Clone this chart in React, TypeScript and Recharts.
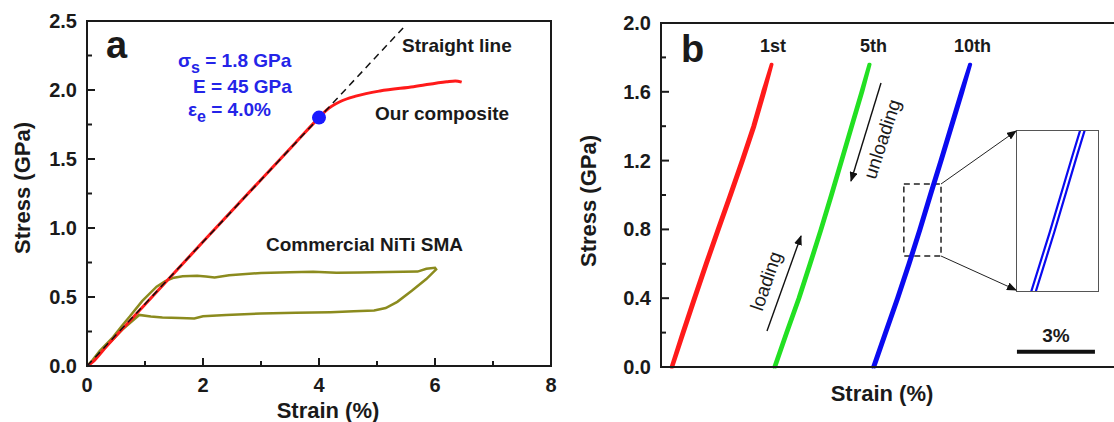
import React from 'react';
import { LineChart, Line, XAxis, YAxis, ReferenceArea, ReferenceDot, ReferenceLine } from 'recharts';

const FONT = '"Liberation Sans", Arial, Helvetica, sans-serif';
const INK = '#1a1a1a';
const BLUE_TEXT = '#2424e8';

// ---- panel a: monotonic tensile curves ----
const straightLine = [{ x: 0, y: 0 }, { x: 5.45, y: 2.45 }];

const composite = [
  { x: 0, y: 0 }, { x: 0.1, y: 0.03 }, { x: 0.3, y: 0.125 }, { x: 1.0, y: 0.445 },
  { x: 2.0, y: 0.9 }, { x: 3.0, y: 1.35 }, { x: 3.6, y: 1.62 }, { x: 4.0, y: 1.8 },
  { x: 4.13, y: 1.855 }, { x: 4.36, y: 1.915 }, { x: 4.65, y: 1.957 }, { x: 5.05, y: 1.993 },
  { x: 5.63, y: 2.024 }, { x: 6.2, y: 2.06 }, { x: 6.35, y: 2.066 }, { x: 6.46, y: 2.057 },
];

const niti = [
  // loading
  { x: 0, y: 0 }, { x: 0.1, y: 0.045 }, { x: 0.22, y: 0.11 }, { x: 0.45, y: 0.21 },
  { x: 0.6, y: 0.29 }, { x: 0.74, y: 0.36 }, { x: 0.95, y: 0.47 }, { x: 1.2, y: 0.575 },
  { x: 1.35, y: 0.615 }, { x: 1.5, y: 0.64 }, { x: 1.65, y: 0.65 }, { x: 1.9, y: 0.654 },
  { x: 2.05, y: 0.648 }, { x: 2.2, y: 0.642 }, { x: 2.45, y: 0.658 }, { x: 3.0, y: 0.674 },
  { x: 3.5, y: 0.68 }, { x: 3.9, y: 0.683 }, { x: 4.3, y: 0.676 }, { x: 4.7, y: 0.678 },
  { x: 5.2, y: 0.682 }, { x: 5.7, y: 0.684 }, { x: 5.85, y: 0.705 }, { x: 6.0, y: 0.712 },
  // unloading
  { x: 6.02, y: 0.7 }, { x: 5.85, y: 0.63 }, { x: 5.6, y: 0.545 }, { x: 5.35, y: 0.465 },
  { x: 5.15, y: 0.42 }, { x: 4.95, y: 0.403 }, { x: 4.6, y: 0.396 }, { x: 4.2, y: 0.39 },
  { x: 3.6, y: 0.385 }, { x: 3.0, y: 0.38 }, { x: 2.4, y: 0.37 }, { x: 2.0, y: 0.36 },
  { x: 1.85, y: 0.345 }, { x: 1.6, y: 0.347 }, { x: 1.3, y: 0.352 }, { x: 1.1, y: 0.358 },
  { x: 0.9, y: 0.37 }, { x: 0.6, y: 0.26 }, { x: 0.3, y: 0.13 }, { x: 0.08, y: 0.03 }, { x: 0, y: 0 },
];

const yieldPoint = { x: 4.0, y: 1.8 };

const aXTicks = [0, 1, 2, 3, 4, 5, 6, 7, 8];
const aXMajor = [0, 2, 4, 6, 8];
const aYTicks = [0, 0.25, 0.5, 0.75, 1.0, 1.25, 1.5, 1.75, 2.0, 2.25, 2.5];
const aYMajor = [0, 0.5, 1.0, 1.5, 2.0, 2.5];

// ---- panel b: cyclic loading (strain in %, shifted per cycle) ----
const stressLevels = [0, 0.2, 0.4, 0.6, 0.8, 1.0, 1.2, 1.4, 1.6, 1.76];
const cycle1Load = [0.39, 0.81, 1.25, 1.7, 2.16, 2.63, 3.09, 3.53, 3.91, 4.24];
const cycle1Unload = [0.45, 0.89, 1.33, 1.78, 2.24, 2.71, 3.17, 3.61, 3.99, 4.27];
const cycle5Load = [4.34, 4.8, 5.27, 5.7, 6.12, 6.52, 6.91, 7.3, 7.69, 8.0];
const cycle5Unload = [4.41, 4.87, 5.34, 5.77, 6.19, 6.59, 6.98, 7.37, 7.76, 8.04];
const cycle10Load = [8.14, 8.6, 9.06, 9.5, 9.92, 10.32, 10.73, 11.13, 11.53, 11.87];
const cycle10Unload = [8.22, 8.68, 9.14, 9.58, 10.0, 10.4, 10.81, 11.21, 11.61, 11.91];

const bYTicks = [0, 0.2, 0.4, 0.6, 0.8, 1.0, 1.2, 1.4, 1.6, 1.8, 2.0];
const bYMajor = [0, 0.4, 0.8, 1.2, 1.6, 2.0];

const zoomBox = { x1: 9.34, x2: 10.77, y1: 0.645, y2: 1.064 };
const scaleBar = { start: 13.69, length: 3, stress: 0.089 };

const loop = (load: number[], unload: number[]) => [
  ...stressLevels.map((s, i) => ({ x: load[i], y: s })),
  ...stressLevels.map((s, i) => ({ x: unload[i], y: s })).reverse(),
];

const cycle1 = loop(cycle1Load, cycle1Unload);
const cycle5 = loop(cycle5Load, cycle5Unload);
const cycle10 = loop(cycle10Load, cycle10Unload);

const isMajor = (majors: number[], v: number) => majors.some(m => Math.abs(m - v) < 1e-6);

// inward ticks, long for labelled values and short for the minor ones
const bottomTick = (majors: number[]) => (p: any) => {
  const { x, y, payload } = p;
  const major = isMajor(majors, payload.value);
  return (
    <g>
      <line x1={x} y1={y} x2={x} y2={y - (major ? 8 : 5)} stroke={INK} strokeWidth={2} />
      {major && (
        <text x={x} y={y + 26} textAnchor="middle" fontFamily={FONT} fontSize={20} fontWeight="bold" fill={INK}>
          {String(payload.value)}
        </text>
      )}
    </g>
  );
};

const leftTick = (majors: number[]) => (p: any) => {
  const { x, y, payload } = p;
  const major = isMajor(majors, payload.value);
  return (
    <g>
      <line x1={x} y1={y} x2={x + (major ? 8 : 5)} y2={y} stroke={INK} strokeWidth={2} />
      {major && (
        <text x={x - 10} y={y + 7} textAnchor="end" fontFamily={FONT} fontSize={20} fontWeight="bold" fill={INK}>
          {payload.value.toFixed(1)}
        </text>
      )}
    </g>
  );
};

const axisLine = { stroke: INK, strokeWidth: 2 };

function PanelA() {
  return (
    <LineChart width={560} height={422} margin={{ top: 21, right: 9, bottom: 16, left: 27 }}>
      <XAxis type="number" dataKey="x" domain={[0, 8]} ticks={aXTicks} interval={0} height={40}
        tickSize={0} tickMargin={0} tickLine={false} axisLine={axisLine} tick={bottomTick(aXMajor)} />
      <YAxis type="number" dataKey="y" domain={[0, 2.5]} ticks={aYTicks} interval={0} width={60}
        tickSize={0} tickMargin={0} tickLine={false} axisLine={axisLine} tick={leftTick(aYMajor)} />
      <ReferenceArea x1={0} x2={8} y1={0} y2={2.5} fill="none" stroke={INK} strokeWidth={2} fillOpacity={0} />
      <Line data={niti} dataKey="y" type="linear" stroke="#8b8b1e" strokeWidth={2.5} dot={false} isAnimationActive={false} />
      <Line data={composite} dataKey="y" type="monotone" stroke="#ff1a1a" strokeWidth={3} dot={false} isAnimationActive={false} />
      <Line data={straightLine} dataKey="y" type="linear" stroke="#111" strokeWidth={1.5} strokeDasharray="7 5" dot={false} isAnimationActive={false} />
      <ReferenceDot x={yieldPoint.x} y={yieldPoint.y} r={7} fill="#1a1aff" stroke="none" />
    </LineChart>
  );
}

function PanelB() {
  return (
    <LineChart width={560} height={422} margin={{ top: 23, right: 4, bottom: 15, left: 31 }}>
      <XAxis type="number" dataKey="x" domain={[0, 17.5]} height={40} tick={false} tickLine={false} axisLine={axisLine} />
      <YAxis type="number" dataKey="y" domain={[0, 2.0]} ticks={bYTicks} interval={0} width={70}
        tickSize={0} tickMargin={0} tickLine={false} axisLine={axisLine} tick={leftTick(bYMajor)} />
      <ReferenceArea x1={0} x2={17.5} y1={0} y2={2.0} fill="none" stroke={INK} strokeWidth={2} fillOpacity={0} />
      <Line data={cycle1} dataKey="y" type="linear" stroke="#ff1a1a" strokeWidth={3} strokeLinecap="round" strokeLinejoin="round" dot={false} isAnimationActive={false} />
      <Line data={cycle5} dataKey="y" type="linear" stroke="#22e022" strokeWidth={3} strokeLinecap="round" strokeLinejoin="round" dot={false} isAnimationActive={false} />
      <Line data={cycle10} dataKey="y" type="linear" stroke="#0a0af0" strokeWidth={3} strokeLinecap="round" strokeLinejoin="round" dot={false} isAnimationActive={false} />
      <ReferenceArea x1={zoomBox.x1} x2={zoomBox.x2} y1={zoomBox.y1} y2={zoomBox.y2} fill="none" fillOpacity={0}
        stroke="#222" strokeWidth={1.5} strokeDasharray="6 4" />
      <ReferenceLine segment={[{ x: scaleBar.start, y: scaleBar.stress }, { x: scaleBar.start + scaleBar.length, y: scaleBar.stress }]}
        stroke="#111" strokeWidth={4} />
    </LineChart>
  );
}

function Inset() {
  return (
    <div style={{ position: 'absolute', left: 1017, top: 130.5, width: 81, height: 160, outline: '1.5px solid #555', background: '#fff' }}>
      <LineChart width={81} height={160} margin={{ top: 0, right: 0, bottom: 0, left: 0 }}>
        <XAxis type="number" dataKey="x" domain={[zoomBox.x1, zoomBox.x2]} allowDataOverflow hide />
        <YAxis type="number" dataKey="y" domain={[zoomBox.y1, zoomBox.y2]} allowDataOverflow hide />
        <Line data={cycle10} dataKey="y" type="linear" stroke="#0a0af0" strokeWidth={2.2} dot={false} isAnimationActive={false} />
      </LineChart>
    </div>
  );
}

function Overlay() {
  const t = { fontFamily: FONT, fill: INK };
  return (
    <svg width={1114} height={422} style={{ position: 'absolute', left: 0, top: 0, pointerEvents: 'none' }}>
      <defs>
        <marker id="ah" markerWidth="10" markerHeight="8" refX="9" refY="4" orient="auto" markerUnits="userSpaceOnUse">
          <path d="M0,0 L10,4 L0,8 z" fill="#111" />
        </marker>
      </defs>
      {/* panel a */}
      <text x={106} y={58} fontSize={38} fontWeight="bold" {...t}>a</text>
      <text x={178} y={67} fontSize={19} fontWeight="bold" fontFamily={FONT} fill={BLUE_TEXT}>
        σ<tspan dy={6} fontSize={16}>s</tspan><tspan dy={-6}> = 1.8 GPa</tspan>
      </text>
      <text x={193} y={93} fontSize={19} fontWeight="bold" fontFamily={FONT} fill={BLUE_TEXT}>E = 45 GPa</text>
      <text x={188} y={116} fontSize={19} fontWeight="bold" fontFamily={FONT} fill={BLUE_TEXT}>
        ε<tspan dy={6} fontSize={16}>e</tspan><tspan dy={-6}> = 4.0%</tspan>
      </text>
      <text x={402} y={52} fontSize={19} fontWeight="bold" {...t}>Straight line</text>
      <text x={375} y={120} fontSize={19} fontWeight="bold" {...t}>Our composite</text>
      <text x={266} y={251} fontSize={19} fontWeight="bold" {...t}>Commercial NiTi SMA</text>
      <text x={328} y={418} fontSize={22} fontWeight="bold" textAnchor="middle" {...t}>Strain (%)</text>
      <text x={30} y={188} fontSize={22} fontWeight="bold" textAnchor="middle" transform="rotate(-90 30 188)" {...t}>Stress (GPa)</text>

      {/* panel b */}
      <text x={681} y={62} fontSize={38} fontWeight="bold" {...t}>b</text>
      <text x={760} y={52} fontSize={18} fontWeight="bold" {...t}>1st</text>
      <text x={860} y={52} fontSize={18} fontWeight="bold" {...t}>5th</text>
      <text x={954} y={52} fontSize={18} fontWeight="bold" {...t}>10th</text>
      <text x={882} y={401} fontSize={22} fontWeight="bold" textAnchor="middle" {...t}>Strain (%)</text>
      <text x={596} y={201} fontSize={22} fontWeight="bold" textAnchor="middle" transform="rotate(-90 596 201)" {...t}>Stress (GPa)</text>
      <text x={766} y={281} fontSize={19} textAnchor="middle" dominantBaseline="central" transform="rotate(-71 766 281)" {...t}>loading</text>
      <text x={882} y={139} fontSize={19} textAnchor="middle" dominantBaseline="central" transform="rotate(-72 882 139)" {...t}>unloading</text>
      <line x1={767} y1={331} x2={801} y2={236} stroke="#111" strokeWidth={1.4} markerEnd="url(#ah)" />
      <line x1={881} y1={83} x2={851} y2={181} stroke="#111" strokeWidth={1.4} markerEnd="url(#ah)" />
      <line x1={941} y1={184} x2={1016} y2={131} stroke="#222" strokeWidth={1} markerEnd="url(#ah)" />
      <line x1={941} y1={256} x2={1016} y2={290} stroke="#222" strokeWidth={1} markerEnd="url(#ah)" />
      <text x={1056} y={342} fontSize={19} fontWeight="bold" textAnchor="middle" {...t}>3%</text>
    </svg>
  );
}

export default function App() {
  return (
    <div style={{ position: 'absolute', left: 0, top: 0, width: 1114, height: 422, overflow: 'hidden', background: '#fff' }}>
      <div style={{ position: 'absolute', left: 0, top: 0 }}>
        <PanelA />
      </div>
      <div style={{ position: 'absolute', left: 560, top: 0 }}>
        <PanelB />
      </div>
      <Inset />
      <Overlay />
    </div>
  );
}
